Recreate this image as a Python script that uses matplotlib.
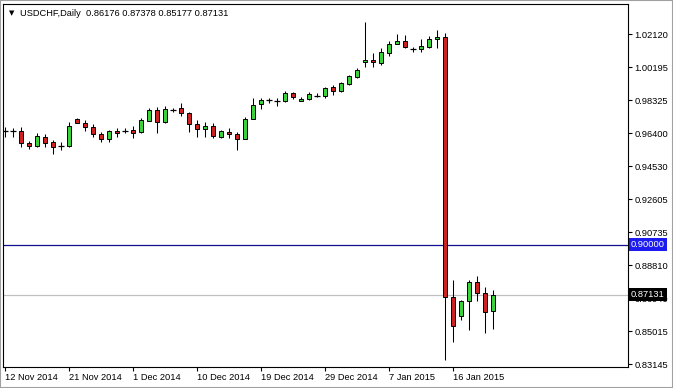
import matplotlib.pyplot as plt
import numpy as np
from matplotlib.patches import Rectangle

# daily USDCHF bars
opens = [0.96530, 0.96530, 0.96543, 0.95853, 0.95680, 0.96198, 0.95910, 0.95680, 0.95680, 0.97233,
         0.97003, 0.96773, 0.96370, 0.96083, 0.96543, 0.96543, 0.96600, 0.96485, 0.97118, 0.97750,
         0.97060, 0.97750, 0.97865, 0.97578, 0.96945, 0.96658, 0.96830, 0.96198, 0.96485, 0.96370,
         0.96083, 0.97233, 0.98095, 0.98325, 0.98268, 0.98268, 0.98728, 0.98268, 0.98383, 0.98555,
         0.98555, 0.99073, 0.98843, 0.99245, 0.99648, 1.00510, 1.00625, 1.00453, 1.01028, 1.01545,
         1.01718, 1.01258, 1.01258, 1.01373, 1.01833, 1.01948, 0.86998, 0.85905, 0.86768, 0.87860,
         0.87228, 0.86176]
highs = [0.96773, 0.96715, 0.96773, 0.95968, 0.96428, 0.96370, 0.96025, 0.95910, 0.97060, 0.97290,
         0.97175, 0.96945, 0.96485, 0.96600, 0.96715, 0.96715, 0.96830, 0.97290, 0.97865, 0.97923,
         0.97980, 0.97865, 0.98153, 0.97635, 0.97175, 0.97060, 0.97003, 0.96600, 0.96715, 0.96485,
         0.97348, 0.98440, 0.98440, 0.98440, 0.98440, 0.98843, 0.98785, 0.98498, 0.98785, 0.98728,
         0.99073, 0.99188, 0.99360, 0.99763, 1.00165, 1.02810, 1.01028, 1.01315, 1.01718, 1.02120,
         1.02063, 1.01373, 1.01833, 1.02005, 1.02350, 1.02178, 0.87975, 0.86825, 0.87975, 0.88205,
         0.87573, 0.87378]
lows = [0.96198, 0.96198, 0.95623, 0.95508, 0.95623, 0.95623, 0.95220, 0.95450, 0.95623, 0.97003,
        0.96543, 0.96198, 0.95910, 0.95910, 0.96198, 0.96428, 0.96140, 0.96428, 0.97118, 0.96428,
        0.97003, 0.97635, 0.97405, 0.96485, 0.96198, 0.96198, 0.96140, 0.96140, 0.96140, 0.95450,
        0.96083, 0.97233, 0.97808, 0.98153, 0.97980, 0.98210, 0.98383, 0.98268, 0.98325, 0.98498,
        0.98440, 0.98613, 0.98785, 0.99188, 0.99590, 1.00223, 1.00223, 1.00338, 1.00855, 1.01545,
        1.01315, 1.01085, 1.01085, 1.01315, 1.01315, 0.83375, 0.84410, 0.85675, 0.85100, 0.86768,
        0.84928, 0.85177]
closes = [0.96530, 0.96530, 0.95853, 0.95680, 0.96255, 0.95853, 0.95623, 0.95680, 0.96830, 0.97003,
          0.96773, 0.96370, 0.96083, 0.96543, 0.96428, 0.96543, 0.96428, 0.97175, 0.97750, 0.97060,
          0.97808, 0.97750, 0.97578, 0.96945, 0.96658, 0.96830, 0.96255, 0.96543, 0.96370, 0.96083,
          0.97233, 0.98038, 0.98325, 0.98325, 0.98268, 0.98728, 0.98498, 0.98383, 0.98670, 0.98555,
          0.99015, 0.98843, 0.99303, 0.99705, 1.00050, 1.00625, 1.00510, 1.01085, 1.01545, 1.01718,
          1.01373, 1.01258, 1.01430, 1.01833, 1.01948, 0.86998, 0.85330, 0.86768, 0.87860, 0.87228,
          0.86135, 0.87131]

price_ticks = [1.02120, 1.00195, 0.98325, 0.96400, 0.94530, 0.92605, 0.90735,
               0.88810, 0.86940, 0.85015, 0.83145]
date_labels = ["12 Nov 2014", "21 Nov 2014", "1 Dec 2014", "10 Dec 2014",
               "19 Dec 2014", "29 Dec 2014", "7 Jan 2015", "16 Jan 2015"]
date_bars = [0, 8, 16, 24, 32, 40, 48, 56]
level_line = 0.90000
header = "USDCHF,Daily  0.86176 0.87378 0.85177 0.87131"

plt.rcParams['font.family'] = ['Liberation Sans', 'DejaVu Sans']

W, H = 673, 388
fig = plt.figure(figsize=(W / 100, H / 100), dpi=100)
ax = fig.add_axes([3 / W, 21 / H, 625 / W, 363 / H])

o = np.array(opens)
h = np.array(highs)
l = np.array(lows)
c = np.array(closes)
x = np.arange(len(o))
up = c > o
dn = c < o
dj = c == o

green = '#3cd23c'
red = '#cc2222'

ax.vlines(x, l, h, color='black', lw=0.75, zorder=2)
ax.bar(x[up], (c - o)[up], bottom=o[up], width=0.55, color=green,
       edgecolor='black', lw=0.7, zorder=3)
ax.bar(x[dn], (o - c)[dn], bottom=c[dn], width=0.55, color=red,
       edgecolor='black', lw=0.7, zorder=3)
ax.hlines(o[dj], x[dj] - 0.35, x[dj] + 0.35, color='black', lw=0.9, zorder=3)

ax.axhline(level_line, color='#10108c', lw=0.9, zorder=1)
ax.axhline(closes[-1], color='#c0c0c0', lw=0.9, zorder=1)

ax.set_xlim(-0.25, 77.875)
ax.set_ylim(0.829725, 1.03845)

ax.yaxis.tick_right()
ax.set_yticks(price_ticks)
ax.set_yticklabels([f'{v:.5f}' for v in price_ticks])
ax.tick_params(axis='y', length=3, width=0.8, pad=1.5, labelsize=6.7)
ax.set_xticks(date_bars)
ax.set_xticklabels(date_labels, ha='left')
ax.tick_params(axis='x', length=3, width=0.8, pad=1.5, labelsize=6.7)
for s in ax.spines.values():
    s.set_linewidth(0.8)
    s.set_color('black')

tr = ax.get_yaxis_transform()
ax.text(1.0048, level_line, f'{level_line:.5f}', transform=tr, ha='left', va='center',
        color='white', fontsize=6.7, clip_on=False, zorder=6,
        bbox=dict(boxstyle='square,pad=0.2', fc='#1c1cf0', ec='none'))
ax.text(1.0048, closes[-1], f'{closes[-1]:.5f}', transform=tr, ha='left', va='center',
        color='white', fontsize=6.7, clip_on=False, zorder=6,
        bbox=dict(boxstyle='square,pad=0.2', fc='black', ec='none'))

fig.text(9 / W, 1 - 13 / H, '\u25bc', fontsize=5, va='center', family='DejaVu Sans')
fig.text(20 / W, 1 - 13 / H, header, fontsize=6.7, va='center')

fig.patches.append(Rectangle((0, 0), 1, 1, transform=fig.transFigure, fill=False,
                             ec='#a0a0a0', lw=1.5))

fig.savefig('out.png', dpi=100)
